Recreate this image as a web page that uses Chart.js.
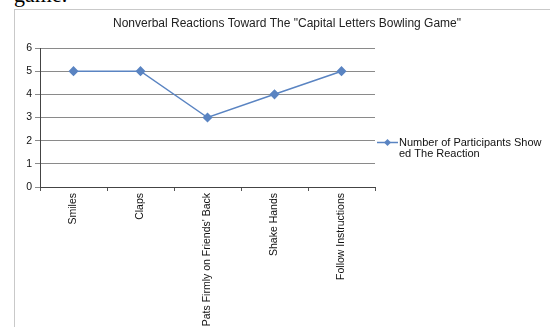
<!DOCTYPE html>
<html lang="en">
<head>
<meta charset="utf-8">
<script src="https://cdn.jsdelivr.net/npm/chart.js"></script>
<style>
    html, body { margin: 0; padding: 0; background: #fff; overflow: hidden; }
    body { width: 550px; height: 327px; position: relative; font-family: 'Liberation Sans', Arial, sans-serif; }
    .cut-word {
        position: absolute; left: 14px; top: -18px;
        font-family: 'Liberation Serif', 'Times New Roman', serif; font-size: 22px; color: #000;
    }
    .frame {
        position: absolute; left: 14px; top: 9px; width: 600px; height: 400px;
        border: 1.5px solid #c9c9c9;
    }
    #wrap { position: absolute; left: 0; top: 0; width: 550px; height: 400px; }
</style>
</head>
<body>
    <div class="cut-word">game.</div>
    <div class="frame"></div>
    <div id="wrap"><canvas id="chart"></canvas></div>

<script>
    const chartTitle = 'Nonverbal Reactions Toward The "Capital Letters Bowling Game"';
    const categories = ['Smiles', 'Claps', "Pats Firmly on Friends' Back", 'Shake Hands', 'Follow Instructions'];
    const participants = [5, 5, 3, 4, 5];
    const seriesName = 'Number of Participants Showed The Reaction';
    const legendLines = ['Number of Participants Show', 'ed The Reaction'];
    const yTicks = [0, 1, 2, 3, 4, 5, 6];

    const lineColor = '#5a84c2';
    const gridColor = '#8a8a8a';
    const textFont = { family: "'Liberation Sans', Arial, sans-serif", size: 10.5 };

    // title + legend drawn by hand so they sit where the original put them
    const extras = {
        id: 'extras',
        afterDraw(chart) {
            const c = chart.ctx;
            const area = chart.chartArea;
            c.save();
            c.fillStyle = '#222';
            c.font = "12px 'Liberation Sans', Arial, sans-serif";
            c.textAlign = 'center';
            c.textBaseline = 'middle';
            c.fillText(chartTitle, 287, 24);

            const ly = (area.top + area.bottom) / 2 + 25;
            const lx = area.right + 2;
            c.strokeStyle = lineColor;
            c.lineWidth = 1.5;
            c.beginPath();
            c.moveTo(lx, ly);
            c.lineTo(lx + 21, ly);
            c.stroke();
            c.fillStyle = lineColor;
            c.beginPath();
            c.moveTo(lx + 10.5, ly - 3.5);
            c.lineTo(lx + 14, ly);
            c.lineTo(lx + 10.5, ly + 3.5);
            c.lineTo(lx + 7, ly);
            c.closePath();
            c.fill();

            c.fillStyle = '#111';
            c.font = "11px 'Liberation Sans', Arial, sans-serif";
            c.textAlign = 'left';
            legendLines.forEach((t, i) => c.fillText(t, lx + 22, ly + i * 11));
            c.restore();
        }
    };

    new Chart(document.getElementById('chart'), {
        type: 'line',
        data: {
            labels: categories,
            datasets: [{
                label: seriesName,
                data: participants,
                borderColor: lineColor,
                backgroundColor: lineColor,
                borderWidth: 1.5,
                pointStyle: 'rectRot',
                pointRadius: 4,
                pointHoverRadius: 4,
                tension: 0
            }]
        },
        options: {
            responsive: true,
            maintainAspectRatio: false,
            animation: false,
            layout: { padding: { top: 48, right: 175, left: 0, bottom: 0 } },
            plugins: {
                legend: { display: false },
                title: { display: false },
                tooltip: { enabled: false }
            },
            scales: {
                x: {
                    offset: true,
                    afterFit(scale) { scale.height = 213; },
                    grid: {
                        offset: true,
                        drawOnChartArea: false,
                        drawTicks: true,
                        tickLength: 4,
                        color: '#555'
                    },
                    border: { color: '#444', width: 1 },
                    ticks: {
                        color: '#111',
                        font: textFont,
                        minRotation: 90,
                        maxRotation: 90,
                        padding: 2,
                        autoSkip: false
                    }
                },
                y: {
                    min: 0,
                    max: 6,
                    afterBuildTicks(scale) {
                        scale.ticks = yTicks.map(v => ({ value: v }));
                    },
                    afterFit(scale) { scale.width = 40; },
                    grid: {
                        color: gridColor,
                        lineWidth: 1,
                        tickLength: 5
                    },
                    border: { color: '#444', width: 1 },
                    ticks: {
                        color: '#111',
                        font: textFont,
                        padding: 3
                    }
                }
            }
        },
        plugins: [extras]
    });
</script>
</body>
</html>
